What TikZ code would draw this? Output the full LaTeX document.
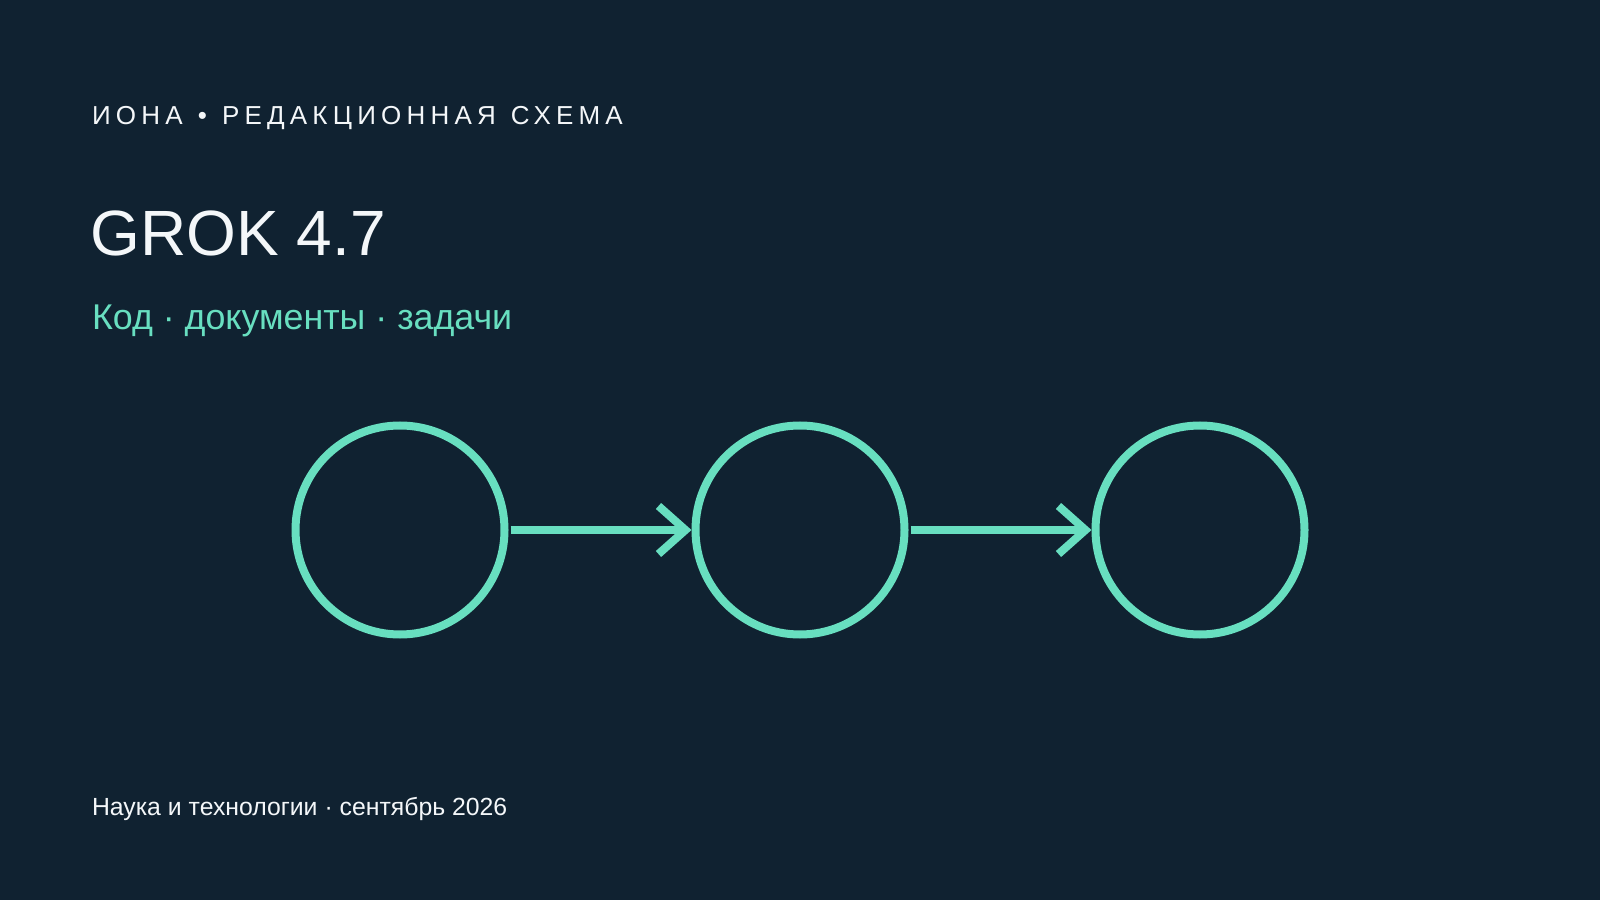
\documentclass[tikz,border=0pt]{standalone}
\usepackage{fontspec}
\setmainfont{Liberation Sans}
\newfontfamily\kickerfont[LetterSpace=20,WordSpace=1.22]{Liberation Sans}
\usetikzlibrary{positioning,arrows.meta}
\definecolor{inkbg}{HTML}{102231}
\definecolor{mint}{HTML}{68DFC0}
\definecolor{paper}{HTML}{F4F7F9}

\begin{document}
\begin{tikzpicture}[x=1pt,y=1pt,line width=8pt,
	stage/.style={circle,draw=mint,minimum size=209pt,inner sep=0pt},
	flow/.style={draw=mint,-{Straight Barb[length=27pt,width=48pt]},shorten <=2pt},
	caption/.style={anchor=base west,inner sep=0pt,text=paper}]

		% the dark page
		\fill[inkbg] (0,0) rectangle (1600,900);
		\useasboundingbox (0,0) rectangle (1600,900);

		% heading block
		\node[caption,font=\kickerfont\fontsize{26}{30}\selectfont] (kicker) at (88,775.5) {ИОНА • РЕДАКЦИОННАЯ СХЕМА};
		\node[caption,font=\fontsize{64}{76}\selectfont] (title) at (86.5,644.5) {GROK 4.7};
		\node[caption,text=mint,font=\fontsize{35.8}{42}\selectfont] (subtitle) at (88,570.5) {Код · документы · задачи};

		% the three stages
		\node[stage] (s1) at (400,370) {};
		\node[stage,right=183pt of s1] (s2) {};
		\node[stage,right=183pt of s2] (s3) {};
		\draw[flow] (s1) -- (s2);
		\draw[flow] (s2) -- (s3);

		% footer
		\node[caption,font=\fontsize{24.8}{29}\selectfont] (footer) at (88,84.3) {Наука и технологии · сентябрь 2026};

	\end{tikzpicture}
\end{document}
